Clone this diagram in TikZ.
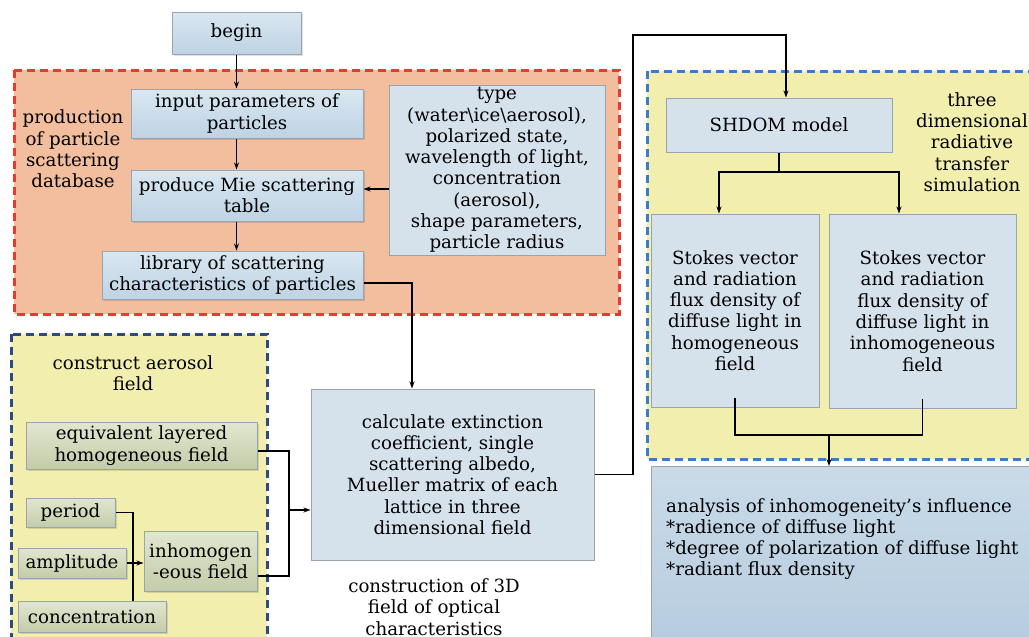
\documentclass[tikz,border=0pt]{standalone}
\usepackage{fontspec}
\setmainfont{DejaVu Serif}
\usetikzlibrary{arrows.meta,shadows}
\definecolor{orangefill}{HTML}{F3BE9E}
\definecolor{reddash}{HTML}{E83A2F}
\definecolor{yellowfill}{HTML}{F2EFAE}
\definecolor{bluedash}{HTML}{3C7BC6}
\definecolor{navydash}{HTML}{2D4B80}
\definecolor{boxflat}{HTML}{D5E2EC}
\definecolor{boxtop}{HTML}{D9E7F1}
\definecolor{boxbot}{HTML}{BED3E4}
\definecolor{greentop}{HTML}{E1E7CF}
\definecolor{greenbot}{HTML}{C3CCA9}
\definecolor{anatop}{HTML}{C9DBE9}
\definecolor{anabot}{HTML}{B5CBDE}
\definecolor{boxline}{HTML}{98A4B0}
\tikzset{
  txt/.style={font=\fontsize{18.2}{21.3}\selectfont, align=center, inner sep=0pt},
  region/.style={line width=3pt, dash pattern=on 8pt off 5pt},
  gradbox/.style={txt, draw=boxline, line width=1pt, top color=boxtop, bottom color=boxbot,
    drop shadow={shadow xshift=2pt, shadow yshift=-2pt, fill=black, opacity=0.12}},
  flatbox/.style={txt, draw=boxline, line width=1pt, fill=boxflat},
  greenbox/.style={txt, draw=boxline, line width=1pt, top color=greentop, bottom color=greenbot,
    drop shadow={shadow xshift=2pt, shadow yshift=-2pt, fill=black, opacity=0.12}},
  conn/.style={line width=1.3pt, black},
  arr/.style={conn, -{Stealth[length=7pt,width=5pt]}},
}
\begin{document}
\begin{tikzpicture}[x=1pt, y=-1pt]
\useasboundingbox (0,0) rectangle (1029,637);
\clip (0,0) rectangle (1029,637);
% regions
\draw[region, draw=reddash, fill=orangefill] (14,70) rectangle (619,314);
\draw[region, draw=bluedash, fill=yellowfill] (647,71) rectangle (1045,459);
\draw[region, draw=navydash, fill=yellowfill] (11,334) rectangle (267,655);
% region labels
\node[txt] (lprod) at (73,149) {production\\of particle\\scattering\\database};
\node[txt] (laero) at (133,373) {construct aerosol\\field};
\node[txt] (lrad) at (972,142) {three\\dimensional\\radiative\\transfer\\simulation};
\node[txt] (lcons) at (434,607) {construction of 3D\\field of optical\\characteristics};
% top-left boxes
\node[gradbox, minimum width=129, minimum height=42] (begin) at (236.5,33) {begin};
\node[gradbox, minimum width=232, minimum height=49] (input) at (247,113.5) {input parameters of\\particles};
\node[gradbox, minimum width=232, minimum height=51] (mie) at (247,195.5) {produce Mie scattering\\table};
\node[gradbox, minimum width=261, minimum height=48] (lib) at (232.5,275) {library of scattering\\characteristics of particles};
\node[flatbox, minimum width=216, minimum height=170] (type) at (497,170) {type\\(water\textbackslash ice\textbackslash aerosol),\\polarized state,\\wavelength of light,\\concentration\\(aerosol),\\shape parameters,\\particle radius};
% centre
\node[flatbox, minimum width=283, minimum height=171] (calc) at (452.5,474.5) {calculate extinction\\coefficient, single\\scattering albedo,\\Mueller matrix of each\\lattice in three\\dimensional field};
% right
\node[flatbox, minimum width=226, minimum height=54] (shdom) at (779,125) {SHDOM model};
\node[flatbox, minimum width=168, minimum height=193] (stokesL) at (735,310.5) {Stokes vector\\and radiation\\flux density of\\diffuse light in\\homogeneous\\field};
\node[flatbox, minimum width=187, minimum height=194] (stokesR) at (922.5,311) {Stokes vector\\and radiation\\flux density of\\diffuse light in\\inhomogeneous\\field};
\node[draw=boxline, line width=1pt, top color=anatop, bottom color=anabot, minimum width=400, minimum height=190, anchor=north west, inner sep=0pt] (ana) at (651,466) {};
\node[txt, align=left, anchor=north west] (anatext) at (666,498) {analysis of inhomogeneity's influence\\*radience of diffuse light\\*degree of polarization of diffuse light\\*radiant flux density};
% green boxes
\node[greenbox, minimum width=231, minimum height=47] (equiv) at (141.5,445.5) {equivalent layered\\homogeneous field};
\node[greenbox, minimum width=89, minimum height=29] (period) at (70.5,512.5) {period};
\node[greenbox, minimum width=108, minimum height=30] (ampl) at (72,563) {amplitude};
\node[greenbox, minimum width=148, minimum height=31] (conc) at (92,616.5) {concentration};
\node[greenbox, minimum width=113, minimum height=60] (inhom) at (200.5,561) {inhomogen\\-eous field};
% connectors top-left
\draw[arr] (begin.south) -- (begin.south |- input.north);
\draw[arr] (input.south -| begin.south) -- (mie.north -| begin.south);
\draw[arr] (mie.south -| begin.south) -- (lib.north -| begin.south);
\draw[arr] (type.west |- 0,189) -- (mie.east |- 0,189);
\coordinate (libdown) at (412,283);
\draw[arr] ([yshift=-8pt]lib.east) -- (libdown) -- (libdown |- calc.north);
% calc to SHDOM
\coordinate (c1) at (633,35);
\draw[arr] (calc.east) -| (c1) -| ([xshift=7pt]shdom.north);
% SHDOM split
\coordinate (split) at (779,172);
\draw[conn] (shdom.south) -- (split);
\draw[arr] (split) -| ([xshift=-16pt]stokesL.north);
\draw[arr] (split) -| ([xshift=-23.5pt]stokesR.north);
% merge
\coordinate (m) at (829,435);
\draw[conn] ([yshift=10pt]stokesL.south) |- (m) -| ([yshift=10pt]stokesR.south);
\draw[arr] (m) -- (m |- ana.north);
% aerosol group
\coordinate (v) at (133,601);
\draw[conn] (period.east) -| (v);
\draw[arr] (ampl.east) -- (ampl.east -| inhom.west);
\coordinate (j) at (289,510);
\draw[conn] ([yshift=-5.5pt]equiv.east) -| (j) |- ([yshift=-15pt]inhom.east);
\draw[arr] (j) -- (j -| calc.west);
\end{tikzpicture}
\end{document}
